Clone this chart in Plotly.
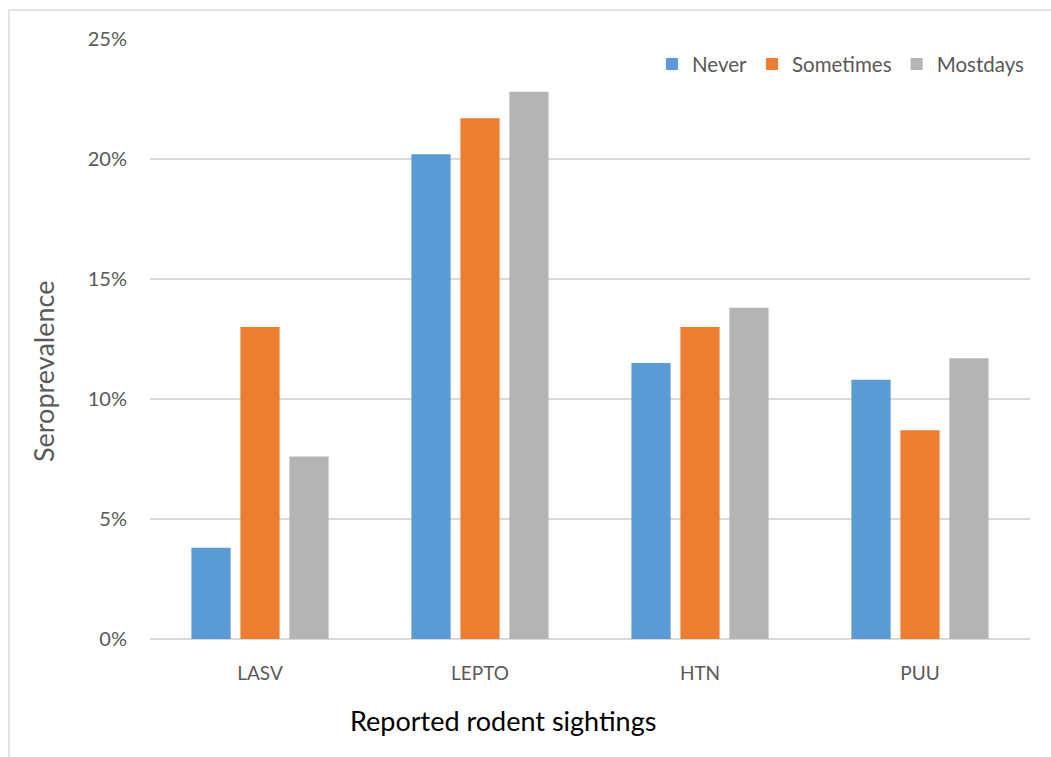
import plotly.graph_objects as go

# Seroprevalence by pathogen and frequency of reported rodent sightings
pathogens = ["LASV", "LEPTO", "HTN", "PUU"]
never = [3.8, 20.2, 11.5, 10.8]
sometimes = [13.0, 21.7, 13.0, 8.7]
mostdays = [7.6, 22.8, 13.8, 11.7]
y_ticks = [0, 5, 10, 15, 20, 25]
y_tick_labels = ["0%", "5%", "10%", "15%", "20%", "25%"]

FONT = "Lato, 'Open Sans', sans-serif"
GREY_TEXT = "#595959"
GRID = "#d9d9d9"

series = [
    ("Never", never, "#5b9bd5"),
    ("Sometimes", sometimes, "#ed7d31"),
    ("Mostdays", mostdays, "#b4b4b4"),
]

fig = go.Figure()
for name, vals, color in series:
    fig.add_trace(go.Bar(
        name=name,
        x=pathogens,
        y=vals,
        marker=dict(color=color, line=dict(width=0)),
    ))

fig.update_layout(
    width=1051,
    height=757,
    margin=dict(l=150, r=21, t=39, b=118),
    paper_bgcolor="white",
    plot_bgcolor="white",
    barmode="group",
    bargap=0.332,
    bargroupgap=0.2,
    font=dict(family=FONT, color=GREY_TEXT, size=19),
    showlegend=True,
    legend=dict(
        orientation="h",
        x=1.0,
        xanchor="right",
        y=0.958,
        yanchor="middle",
        font=dict(family=FONT, size=20.5, color=GREY_TEXT),
        bgcolor="rgba(0,0,0,0)",
        itemwidth=30,
        traceorder="normal",
    ),
    xaxis=dict(
        showgrid=False,
        showline=False,
        ticks="",
        tickfont=dict(family=FONT, size=19, color=GREY_TEXT),
        ticklabelstandoff=21,
    ),
    yaxis=dict(
        range=[0, 25],
        tickvals=y_ticks,
        ticktext=y_tick_labels,
        showgrid=True,
        gridcolor=GRID,
        gridwidth=1.5,
        zeroline=True,
        zerolinecolor=GRID,
        zerolinewidth=1.5,
        showline=False,
        ticks="",
        ticklabelstandoff=22,
        tickfont=dict(family=FONT, size=20, color=GREY_TEXT),
    ),
    annotations=[
        dict(
            text="Seroprevalence",
            xref="paper", yref="paper",
            x=(44 - 150) / 880, y=(639 - 372) / 600,
            xanchor="center", yanchor="middle",
            textangle=-90, showarrow=False,
            font=dict(family=FONT, size=27, color=GREY_TEXT),
        ),
        dict(
            text="Reported rodent sightings",
            xref="paper", yref="paper",
            x=(503 - 150) / 880, y=(639 - 720) / 600,
            xanchor="center", yanchor="middle",
            showarrow=False,
            font=dict(family=FONT, size=27, color="black"),
        ),
    ],
    shapes=[
        dict(type="line", xref="paper", yref="paper",
             x0=(9 - 150) / 880, x1=(1051 - 150) / 880,
             y0=(639 - 10) / 600, y1=(639 - 10) / 600,
             line=dict(color=GRID, width=1.5)),
        dict(type="line", xref="paper", yref="paper",
             x0=(9 - 150) / 880, x1=(9 - 150) / 880,
             y0=(639 - 10) / 600, y1=(639 - 757) / 600,
             line=dict(color=GRID, width=1.5)),
    ],
)

fig.write_html("out.html")
